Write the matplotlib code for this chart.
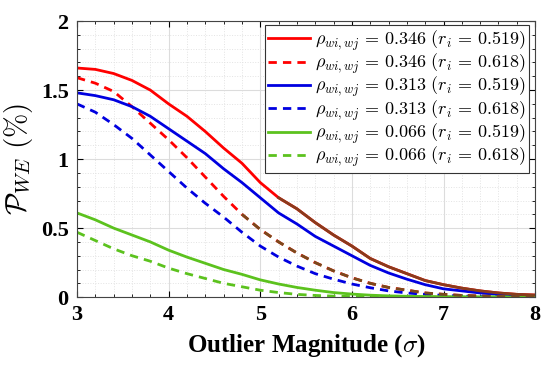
import numpy as np
import matplotlib
matplotlib.use("Agg")
import matplotlib.pyplot as plt
from matplotlib.ticker import MultipleLocator

plt.rcParams["mathtext.fontset"] = "cm"

# outlier magnitude (sigma)
x = np.arange(3.0, 8.01, 0.2)

# P_WE (%)
red_solid = [1.66, 1.65, 1.62, 1.57, 1.50, 1.40, 1.31, 1.20, 1.08, 0.97, 0.83, 0.72, 0.64,
             0.54, 0.45, 0.37, 0.28, 0.22, 0.17, 0.12, 0.09, 0.065, 0.045, 0.03, 0.02, 0.015]
red_dash = [1.59, 1.55, 1.49, 1.38, 1.26, 1.14, 1.01, 0.87, 0.73, 0.60, 0.49, 0.40, 0.32,
            0.25, 0.19, 0.14, 0.10, 0.07, 0.05, 0.03, 0.02, 0.012, 0.008, 0.005, 0.003, 0.002]
blue_solid = [1.48, 1.46, 1.43, 1.38, 1.31, 1.22, 1.13, 1.04, 0.93, 0.83, 0.72, 0.61, 0.53,
              0.44, 0.37, 0.30, 0.23, 0.175, 0.13, 0.09, 0.06, 0.045, 0.03, 0.02, 0.015, 0.01]
blue_dash = [1.40, 1.34, 1.25, 1.15, 1.03, 0.91, 0.79, 0.68, 0.58, 0.47, 0.37, 0.29, 0.225,
             0.17, 0.13, 0.095, 0.068, 0.045, 0.03, 0.02, 0.012, 0.007, 0.004, 0.003, 0.002, 0.001]
green_solid = [0.61, 0.56, 0.50, 0.45, 0.40, 0.34, 0.29, 0.245, 0.20, 0.165, 0.125, 0.095, 0.07,
               0.05, 0.033, 0.022, 0.014, 0.009, 0.006, 0.004, 0.003, 0.002, 0.001, 0.001, 0.0, 0.0]
green_dash = [0.47, 0.41, 0.35, 0.30, 0.26, 0.21, 0.17, 0.135, 0.10, 0.075, 0.05, 0.033, 0.02,
              0.012, 0.007, 0.004, 0.002, 0.001, 0.001, 0.0, 0.0, 0.0, 0.0, 0.0, 0.0, 0.0]

rho = ["0.346", "0.346", "0.313", "0.313", "0.066", "0.066"]
r_i = ["0.519", "0.618", "0.519", "0.618", "0.519", "0.618"]

series = [red_solid, red_dash, blue_solid, blue_dash, green_solid, green_dash]
colors = ["#ff0000", "#ff0000", "#0000e0", "#0000e0", "#5cc21e", "#5cc21e"]
styles = ["-", "--", "-", "--", "-", "--"]

fig, ax = plt.subplots(figsize=(5.5, 3.7), dpi=100)
fig.subplots_adjust(left=0.14, right=0.973, bottom=0.197, top=0.943)

for y, c, ls, rv, ri in zip(series, colors, styles, rho, r_i):
    lab = r"$\rho_{wi,wj}\,=\,%s\ (r_i\,=\,%s)$" % (rv, ri)
    ax.plot(x, y, color=c, linestyle=ls, linewidth=2.0, label=lab,
            dashes=(3, 2.2) if ls == "--" else (None, None))

# red lines look brownish in the lower part of the original
ax.plot(x[11:], red_solid[11:], color="#8a3b1c", linewidth=2.0)
ax.plot(x[9:], red_dash[9:], color="#7a4a1c", linewidth=2.0, dashes=(3, 2.2))

ax.set_xlim(3, 8)
ax.set_ylim(0, 2)
ax.xaxis.set_major_locator(MultipleLocator(1))
ax.xaxis.set_minor_locator(MultipleLocator(0.2))
ax.yaxis.set_minor_locator(MultipleLocator(0.1))
ax.set_yticks([0, 0.5, 1, 1.5, 2])
ax.set_yticklabels(["0", "0.5", "1", "1.5", "2"])

ax.grid(which="major", color="#dcdcdc", linewidth=0.8)
ax.grid(which="minor", color="#e3e3e3", linewidth=0.7, linestyle=":")
ax.set_axisbelow(True)
ax.tick_params(which="both", direction="in", top=True, right=True)
ax.tick_params(which="major", length=4, labelsize=16, pad=6)
ax.tick_params(which="minor", length=2)
for s in ax.spines.values():
    s.set_color("#444444")
    s.set_linewidth(0.8)
for t in ax.get_xticklabels() + ax.get_yticklabels():
    t.set_fontfamily("Liberation Serif")
    t.set_fontweight("bold")

ax.set_xlabel(r"Outlier Magnitude ($\sigma$)", fontsize=18, fontweight="bold",
              fontfamily="Liberation Serif", labelpad=5)
ax.set_ylabel(r"$\mathcal{P}_{WE}\ (\%)$", fontsize=21, labelpad=4)

leg = ax.legend(loc="upper right", bbox_to_anchor=(0.987, 0.987), borderaxespad=0,
                fontsize=13, handlelength=2.3, handletextpad=0.3, labelspacing=-0.05,
                fancybox=False, framealpha=1, borderpad=0.2)
leg.get_frame().set_edgecolor("#333333")
leg.get_frame().set_linewidth(0.8)

fig.savefig("out.png", dpi=100)
